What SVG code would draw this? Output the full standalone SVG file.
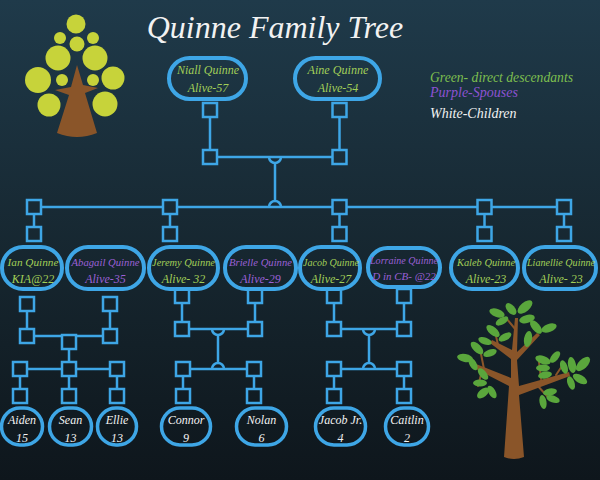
<svg xmlns="http://www.w3.org/2000/svg" width="600" height="480" viewBox="0 0 600 480">
<defs>
<linearGradient id="bg" gradientUnits="userSpaceOnUse" x1="0" y1="0" x2="0" y2="480">
<stop offset="0" stop-color="#1f3a4a"/>
<stop offset="0.55" stop-color="#16262f"/>
<stop offset="1" stop-color="#0e161c"/>
</linearGradient>
<style>
.t{font-family:"Liberation Serif","DejaVu Serif",serif;font-style:italic;text-anchor:middle}
.g{fill:#a2cf58}
.p{fill:#9b60d6}
.w{fill:#f2f2f2}
.pill{fill:none;stroke:#3ea6e6;stroke-width:4}
.kid{fill:none;stroke:#3ea6e6;stroke-width:3.5}
.ln{fill:none;stroke:#3ea6e6;stroke-width:2.5}
.sq{fill:url(#bg);stroke:#3ea6e6;stroke-width:2.5}
.leaf{fill:#5aa63c}
.bark{fill:#8a5529}
.fruit{fill:#c7d33a}
</style>
</defs>
<rect x="0" y="0" width="600" height="480" fill="url(#bg)"/>

<g id="tree-left">
<circle class="fruit" cx="76" cy="24" r="9.5"/>
<circle class="fruit" cx="60" cy="38" r="6"/>
<circle class="fruit" cx="93" cy="38" r="6"/>
<circle class="fruit" cx="77" cy="44" r="7.5"/>
<circle class="fruit" cx="58" cy="58" r="12.5"/>
<circle class="fruit" cx="95" cy="58" r="12.5"/>
<circle class="fruit" cx="38" cy="80" r="13"/>
<circle class="fruit" cx="113" cy="78" r="11.5"/>
<circle class="fruit" cx="62" cy="80" r="6"/>
<circle class="fruit" cx="93" cy="80" r="6"/>
<circle class="fruit" cx="49" cy="105" r="11.5"/>
<circle class="fruit" cx="105" cy="104" r="12.5"/>
<path class="bark" d="M77,65 L71,87 L55,90 L69,95 L57,133 Q77,141 97,133 L85,93 L98,88 L83,85 Z"/>
</g>

<text id="title" class="t w" x="275" y="38" font-size="32">Quinne Family Tree</text>

<g id="legend">
<text class="t" x="430" y="82" font-size="14" fill="#7dbf4f" style="text-anchor:start" textLength="143" lengthAdjust="spacingAndGlyphs">Green- direct descendants</text>
<text class="t" x="430" y="97" font-size="14" fill="#8d52d2" style="text-anchor:start">Purple-Spouses</text>
<text class="t w" x="430" y="118" font-size="14" style="text-anchor:start">White-Children</text>
</g>

<g id="connectors">
<line class="ln" x1="210" y1="117" x2="210" y2="150"/>
<line class="ln" x1="339.5" y1="117" x2="339.5" y2="150"/>
<line class="ln" x1="217" y1="157" x2="332" y2="157"/>
<path class="ln" d="M269,157 A6,6 0 0 0 281,157"/>
<line class="ln" x1="275" y1="163" x2="275" y2="201"/>
<path class="ln" d="M269,207 A6,6 0 0 1 281,207"/>
<line class="ln" x1="34" y1="207" x2="564" y2="207"/>
<rect class="sq" x="203" y="103" width="14" height="14"/>
<rect class="sq" x="203" y="150" width="14" height="14"/>
<rect class="sq" x="332.5" y="103" width="14" height="14"/>
<rect class="sq" x="332.5" y="150" width="14" height="14"/>
<line class="ln" x1="34" y1="214" x2="34" y2="227"/>
<line class="ln" x1="170" y1="214" x2="170" y2="227"/>
<line class="ln" x1="339.5" y1="214" x2="339.5" y2="227"/>
<line class="ln" x1="484.5" y1="214" x2="484.5" y2="227"/>
<line class="ln" x1="564" y1="214" x2="564" y2="227"/>
<rect class="sq" x="27" y="200" width="14" height="14"/>
<rect class="sq" x="163" y="200" width="14" height="14"/>
<rect class="sq" x="332.5" y="200" width="14" height="14"/>
<rect class="sq" x="477.5" y="200" width="14" height="14"/>
<rect class="sq" x="557" y="200" width="14" height="14"/>
<rect class="sq" x="27" y="227" width="14" height="14"/>
<rect class="sq" x="163" y="227" width="14" height="14"/>
<rect class="sq" x="332.5" y="227" width="14" height="14"/>
<rect class="sq" x="477.5" y="227" width="14" height="14"/>
<rect class="sq" x="557" y="227" width="14" height="14"/>
<line class="ln" x1="27" y1="311" x2="27" y2="329"/>
<line class="ln" x1="110" y1="311" x2="110" y2="329"/>
<line class="ln" x1="34" y1="336" x2="103" y2="336"/>
<line class="ln" x1="69" y1="349" x2="69" y2="362"/>
<line class="ln" x1="20" y1="369" x2="117" y2="369"/>
<line class="ln" x1="20" y1="376" x2="20" y2="389"/>
<line class="ln" x1="69" y1="376" x2="69" y2="389"/>
<line class="ln" x1="117" y1="376" x2="117" y2="389"/>
<rect class="sq" x="20" y="297" width="14" height="14"/>
<rect class="sq" x="103" y="297" width="14" height="14"/>
<rect class="sq" x="20" y="329" width="14" height="14"/>
<rect class="sq" x="103" y="329" width="14" height="14"/>
<rect class="sq" x="62" y="335" width="14" height="14"/>
<rect class="sq" x="62" y="362" width="14" height="14"/>
<rect class="sq" x="13" y="362" width="14" height="14"/>
<rect class="sq" x="110" y="362" width="14" height="14"/>
<rect class="sq" x="13" y="389" width="14" height="14"/>
<rect class="sq" x="62" y="389" width="14" height="14"/>
<rect class="sq" x="110" y="389" width="14" height="14"/>
<line class="ln" x1="182" y1="303" x2="182" y2="322"/>
<line class="ln" x1="255" y1="303" x2="255" y2="322"/>
<line class="ln" x1="189" y1="329" x2="248" y2="329"/>
<path class="ln" d="M212,329 A6,6 0 0 0 224,329"/>
<line class="ln" x1="218" y1="335" x2="218" y2="363"/>
<path class="ln" d="M212,369 A6,6 0 0 1 224,369"/>
<line class="ln" x1="190" y1="369" x2="247" y2="369"/>
<line class="ln" x1="183" y1="376" x2="183" y2="389"/>
<line class="ln" x1="254" y1="376" x2="254" y2="389"/>
<rect class="sq" x="175" y="289" width="14" height="14"/>
<rect class="sq" x="248" y="289" width="14" height="14"/>
<rect class="sq" x="175" y="322" width="14" height="14"/>
<rect class="sq" x="248" y="322" width="14" height="14"/>
<rect class="sq" x="176" y="362" width="14" height="14"/>
<rect class="sq" x="247" y="362" width="14" height="14"/>
<rect class="sq" x="176" y="389" width="14" height="14"/>
<rect class="sq" x="247" y="389" width="14" height="14"/>
<line class="ln" x1="334" y1="303" x2="334" y2="322"/>
<line class="ln" x1="404" y1="303" x2="404" y2="322"/>
<line class="ln" x1="341" y1="329" x2="397" y2="329"/>
<path class="ln" d="M363,329 A6,6 0 0 0 375,329"/>
<line class="ln" x1="369" y1="335" x2="369" y2="363"/>
<path class="ln" d="M363,369 A6,6 0 0 1 375,369"/>
<line class="ln" x1="341" y1="369" x2="397" y2="369"/>
<line class="ln" x1="334" y1="376" x2="334" y2="389"/>
<line class="ln" x1="404" y1="376" x2="404" y2="389"/>
<rect class="sq" x="327" y="289" width="14" height="14"/>
<rect class="sq" x="397" y="289" width="14" height="14"/>
<rect class="sq" x="327" y="322" width="14" height="14"/>
<rect class="sq" x="397" y="322" width="14" height="14"/>
<rect class="sq" x="327" y="362" width="14" height="14"/>
<rect class="sq" x="397" y="362" width="14" height="14"/>
<rect class="sq" x="327" y="389" width="14" height="14"/>
<rect class="sq" x="397" y="389" width="14" height="14"/>
</g>

<g id="niall">
<rect class="pill" x="169" y="58" width="77" height="41" rx="20.5"/>
<text class="t g" x="208" y="74" font-size="12" textLength="62" lengthAdjust="spacingAndGlyphs">Niall Quinne</text>
<text class="t g" x="208" y="92" font-size="12">Alive-57</text>
</g>
<g id="aine">
<rect class="pill" x="295" y="58" width="85" height="41" rx="20.5"/>
<text class="t g" x="338" y="74" font-size="12" textLength="61" lengthAdjust="spacingAndGlyphs">Aine Quinne</text>
<text class="t g" x="338" y="92" font-size="12">Alive-54</text>
</g>

<g id="ian">
<rect class="pill" x="2" y="247" width="60" height="42" rx="21"/>
<text class="t g" x="33" y="266" font-size="11" textLength="51" lengthAdjust="spacingAndGlyphs">Ian Quinne</text>
<text class="t g" x="33" y="283" font-size="12">KIA@22</text>
</g>
<g id="abagail">
<rect class="pill" x="67" y="247" width="77" height="42" rx="21"/>
<text class="t p" x="105.5" y="266" font-size="11" textLength="68" lengthAdjust="spacingAndGlyphs">Abagail Quinne</text>
<text class="t p" x="105.5" y="283" font-size="12">Alive-35</text>
</g>
<g id="jeremy">
<rect class="pill" x="149" y="247" width="69" height="42" rx="21"/>
<text class="t g" x="183.5" y="266" font-size="11" textLength="63" lengthAdjust="spacingAndGlyphs">Jeremy Quinne</text>
<text class="t g" x="183.5" y="283" font-size="12">Alive- 32</text>
</g>
<g id="brielle">
<rect class="pill" x="225" y="247" width="71" height="42" rx="21"/>
<text class="t p" x="260.5" y="266" font-size="11" textLength="63" lengthAdjust="spacingAndGlyphs">Brielle Quinne</text>
<text class="t p" x="260.5" y="283" font-size="12">Alive-29</text>
</g>
<g id="jacob">
<rect class="pill" x="300" y="247" width="60" height="42" rx="21"/>
<text class="t g" x="331" y="266" font-size="11" textLength="56" lengthAdjust="spacingAndGlyphs">Jacob Quinne</text>
<text class="t g" x="331" y="283" font-size="12">Alive-27</text>
</g>
<g id="lorraine">
<rect class="pill" x="368" y="248" width="72" height="39" rx="19.5"/>
<text class="t p" x="404" y="264" font-size="11" textLength="68" lengthAdjust="spacingAndGlyphs">Lorraine Quinne</text>
<text class="t p" x="404" y="280" font-size="11">D in CB- @22</text>
</g>
<g id="kaleb">
<rect class="pill" x="451" y="247" width="67" height="42" rx="21"/>
<text class="t g" x="486" y="266" font-size="11" textLength="58" lengthAdjust="spacingAndGlyphs">Kaleb Quinne</text>
<text class="t g" x="486" y="283" font-size="12">Alive-23</text>
</g>
<g id="lianellie">
<rect class="pill" x="524" y="247" width="72" height="42" rx="21"/>
<text class="t g" x="561" y="266" font-size="11" textLength="68" lengthAdjust="spacingAndGlyphs">Lianellie Quinne</text>
<text class="t g" x="561" y="283" font-size="12">Alive- 23</text>
</g>

<g id="aiden">
<rect class="kid" x="1.5" y="408" width="41" height="37" rx="18.5"/>
<text class="t w" x="22" y="424" font-size="12">Aiden</text>
<text class="t w" x="22" y="442" font-size="12">15</text>
</g>
<g id="sean">
<rect class="kid" x="49.5" y="408" width="42" height="37" rx="18.5"/>
<text class="t w" x="70.5" y="424" font-size="12">Sean</text>
<text class="t w" x="70.5" y="442" font-size="12">13</text>
</g>
<g id="ellie">
<rect class="kid" x="97.5" y="408" width="39" height="37" rx="18.5"/>
<text class="t w" x="117" y="424" font-size="12">Ellie</text>
<text class="t w" x="117" y="442" font-size="12">13</text>
</g>
<g id="connor">
<rect class="kid" x="161.5" y="408" width="49" height="37" rx="18.5"/>
<text class="t w" x="186" y="424" font-size="12">Connor</text>
<text class="t w" x="186" y="442" font-size="12">9</text>
</g>
<g id="nolan">
<rect class="kid" x="236.5" y="408" width="50" height="37" rx="18.5"/>
<text class="t w" x="261.5" y="424" font-size="12">Nolan</text>
<text class="t w" x="261.5" y="442" font-size="12">6</text>
</g>
<g id="jacob-jr">
<rect class="kid" x="315.5" y="408" width="50" height="37" rx="18.5"/>
<text class="t w" x="340.5" y="424" font-size="12">Jacob Jr.</text>
<text class="t w" x="340.5" y="442" font-size="12">4</text>
</g>
<g id="caitlin">
<rect class="kid" x="385.5" y="408" width="43" height="37" rx="18.5"/>
<text class="t w" x="407" y="424" font-size="12">Caitlin</text>
<text class="t w" x="407" y="442" font-size="12">2</text>
</g>

<g id="tree-right">
<path class="bark" d="M504,457 Q514,461 524,457 L519,395 L570,376 L569,372 L519,386 L517,360 L540,335 L537,333 L517,352 L518,318 L515,318 L512,350 L492,340 L490,343 L511,359 L511,378 L476,364 L474,368 L509,386 Z"/>
<g stroke="#8a5529" stroke-width="2" fill="none" stroke-linecap="round">
<line x1="484" y1="369" x2="481" y2="354"/>
<line x1="482" y1="371" x2="478" y2="386"/>
<line x1="541" y1="379" x2="539" y2="362"/>
<line x1="536" y1="384" x2="547" y2="396"/>
<line x1="516" y1="330" x2="506" y2="318"/>
<line x1="498" y1="345" x2="496" y2="336"/>
<line x1="556" y1="375" x2="562" y2="366"/>
</g>
<g class="leaf">
<ellipse cx="497" cy="313" rx="8" ry="4" transform="rotate(20 497 313)"/>
<ellipse cx="511" cy="309" rx="7" ry="4" transform="rotate(50 511 309)"/>
<ellipse cx="525" cy="307" rx="9" ry="4.5" transform="rotate(-40 525 307)"/>
<ellipse cx="527" cy="319" rx="8" ry="4" transform="rotate(-15 527 319)"/>
<ellipse cx="502" cy="321" rx="7" ry="3.5" transform="rotate(-30 502 321)"/>
<ellipse cx="493" cy="331" rx="8" ry="4" transform="rotate(40 493 331)"/>
<ellipse cx="505" cy="337" rx="7" ry="3.5" transform="rotate(-30 505 337)"/>
<ellipse cx="485" cy="341" rx="7" ry="3.5" transform="rotate(20 485 341)"/>
<ellipse cx="477" cy="348" rx="8" ry="4" transform="rotate(45 477 348)"/>
<ellipse cx="490" cy="353" rx="7" ry="3.5" transform="rotate(-20 490 353)"/>
<ellipse cx="465" cy="358" rx="8" ry="4" transform="rotate(10 465 358)"/>
<ellipse cx="473" cy="364" rx="7" ry="3.5" transform="rotate(60 473 364)"/>
<ellipse cx="483" cy="374" rx="7" ry="3.5" transform="rotate(50 483 374)"/>
<ellipse cx="480" cy="383" rx="7" ry="3.5" transform="rotate(0 480 383)"/>
<ellipse cx="483" cy="393" rx="7" ry="4" transform="rotate(-40 483 393)"/>
<ellipse cx="492" cy="392" rx="7" ry="3.5" transform="rotate(60 492 392)"/>
<ellipse cx="528" cy="339" rx="8" ry="4" transform="rotate(-80 528 339)"/>
<ellipse cx="536" cy="327" rx="8" ry="4" transform="rotate(50 536 327)"/>
<ellipse cx="549" cy="328" rx="8" ry="4" transform="rotate(-20 549 328)"/>
<ellipse cx="543" cy="360" rx="8" ry="4" transform="rotate(20 543 360)"/>
<ellipse cx="555" cy="357" rx="7" ry="3.5" transform="rotate(-50 555 357)"/>
<ellipse cx="543" cy="368" rx="7" ry="3.5" transform="rotate(0 543 368)"/>
<ellipse cx="545" cy="375" rx="7" ry="3.5" transform="rotate(-10 545 375)"/>
<ellipse cx="564" cy="367" rx="7" ry="3.5" transform="rotate(70 564 367)"/>
<ellipse cx="572" cy="365" rx="8" ry="4" transform="rotate(80 572 365)"/>
<ellipse cx="583" cy="364" rx="9" ry="4.5" transform="rotate(-45 583 364)"/>
<ellipse cx="580" cy="379" rx="8" ry="4" transform="rotate(30 580 379)"/>
<ellipse cx="571" cy="383" rx="7" ry="3.5" transform="rotate(70 571 383)"/>
<ellipse cx="550" cy="392" rx="7" ry="3.5" transform="rotate(-10 550 392)"/>
<ellipse cx="543" cy="402" rx="7" ry="3.5" transform="rotate(80 543 402)"/>
<ellipse cx="553" cy="399" rx="7" ry="3.5" transform="rotate(20 553 399)"/>
</g>
</g>
</svg>
